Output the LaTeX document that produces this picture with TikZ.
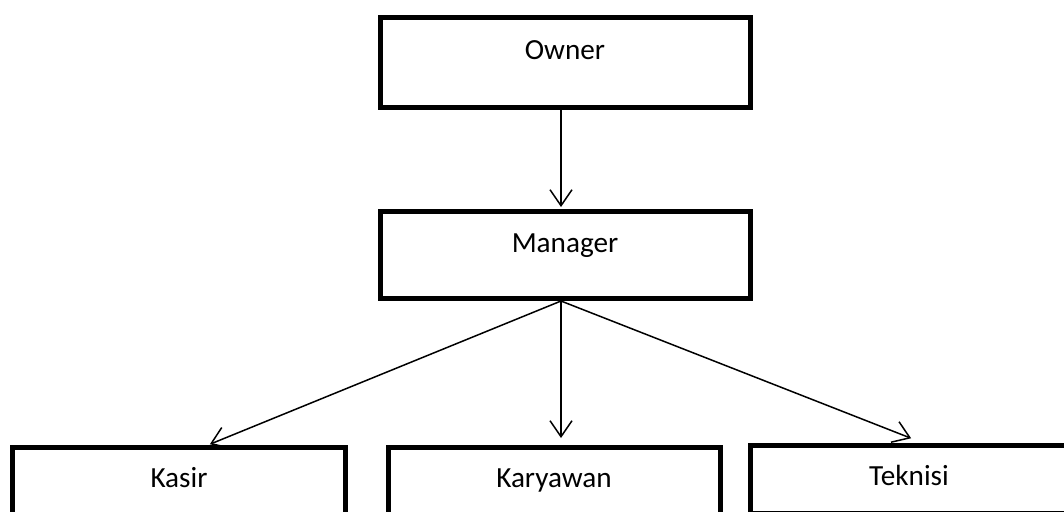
\documentclass[tikz,border=0pt]{standalone}
\usepackage{fontspec}
\setmainfont{Carlito}
\usetikzlibrary{arrows.meta}
\tikzset{
  orgbox/.style={draw=black, line width=2.5pt, fill=white, inner sep=0pt, align=center, font=\fontsize{14.6}{17}\selectfont, anchor=north},
  arr/.style={-{Straight Barb[length=8pt, width=11pt]}, line width=0.75pt, black, shorten >=1pt}
}

\begin{document}
\begin{tikzpicture}[x=0.5pt, y=-0.5pt]
  \useasboundingbox (0,0) rectangle (1064,511);
  \clip (0,0) rectangle (1064,511);
  % top of the chart
  \node[orgbox, minimum width=185pt, text height=21pt, text depth=24pt] (owner) at (565,15) {Owner};
  \node[orgbox, minimum width=185pt, text height=20.5pt, text depth=23pt] (manager) at (565,209) {Manager};
  % staff row
  \node[orgbox, minimum width=166.75pt, text height=20pt, text depth=25pt] (kasir) at (179,445) {Kasir};
  \node[orgbox, minimum width=166pt, text height=20pt, text depth=25pt] (karyawan) at (554,445) {Karyawan};
  \node[orgbox, minimum width=159pt, text height=20pt, text depth=14pt] (teknisi) at (909,443) {Teknisi};
  % lines
  \draw[arr] ([xshift=-2pt]owner.south) -- ([xshift=-2pt]manager.north);
  \draw[arr] ([xshift=-2pt]manager.south) -- ([xshift=14.5pt]kasir.north);
  \draw[arr] ([xshift=-2pt]manager.south) -- ([xshift=3.5pt, yshift=2.5pt]karyawan.north);
  \draw[arr] ([xshift=-2pt]manager.south) -- ([xshift=2pt, yshift=2pt]teknisi.north);
\end{tikzpicture}
\end{document}
